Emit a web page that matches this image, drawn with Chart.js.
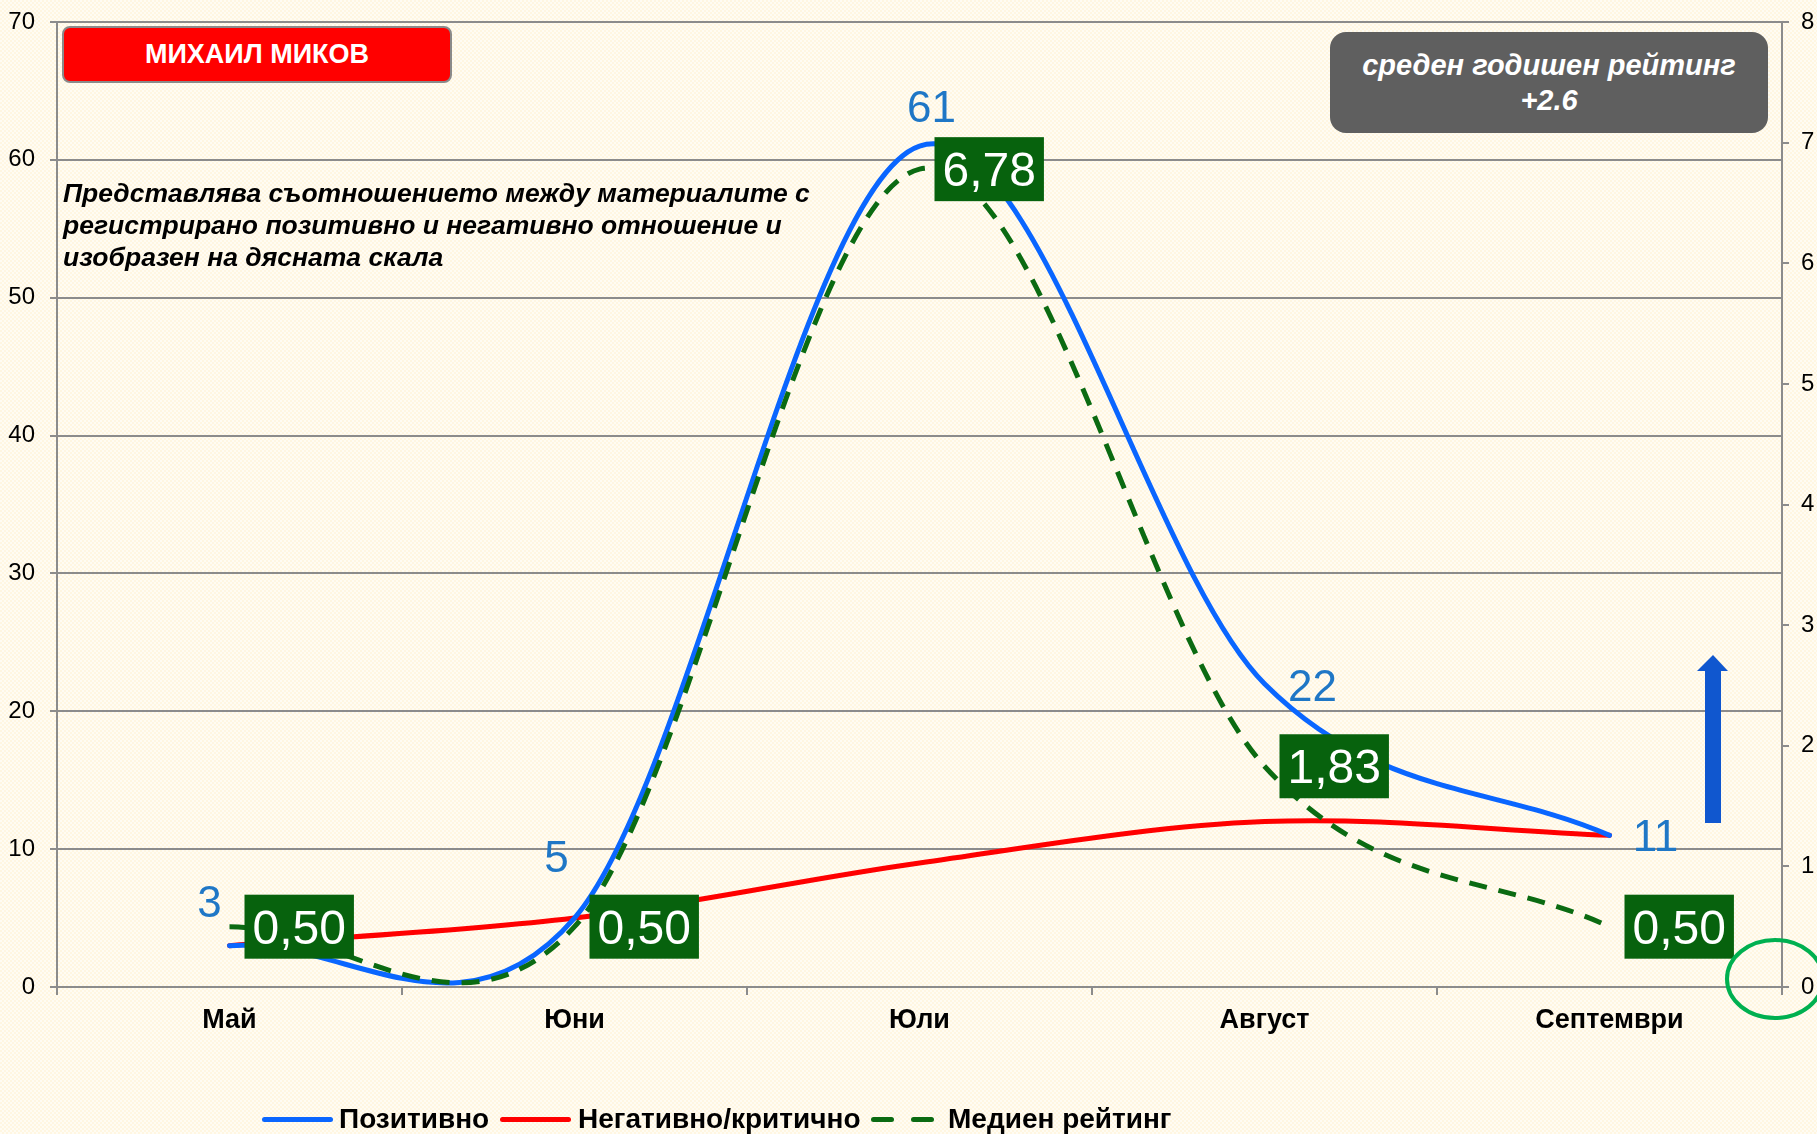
<!DOCTYPE html>
<html>
<head>
<meta charset="utf-8">
<script src="https://cdn.jsdelivr.net/npm/chart.js@4.4.1/dist/chart.umd.min.js"></script>
<style>
  html, body { margin:0; padding:0; }
  body { width:1817px; height:1134px; overflow:hidden;
    background: repeating-conic-gradient(#fff6e1 0 25%, #fffcf3 0 50%) 0 0/4px 4px; }
  #wrap { position:relative; width:1817px; height:1134px; overflow:hidden; font-family:"Liberation Sans", Arial, sans-serif; }
  canvas { position:absolute; left:0; top:0; }
  .namebox { position:absolute; left:62px; top:26px; width:386px; height:53px; background:#ff0000;
    border:2px solid #8a8a8a; border-radius:8px; color:#fff; font-weight:bold; font-size:27px;
    line-height:53px; text-align:center; }
  .note { position:absolute; left:63px; top:177px; font-weight:bold; font-style:italic; font-size:26.5px;
    line-height:32px; color:#000; white-space:nowrap; }
  .avgbox { position:absolute; left:1330px; top:32px; width:438px; height:101px; background:#5f5f5f;
    border-radius:16px; color:#fff; font-weight:bold; font-style:italic; font-size:29px; line-height:35px;
    text-align:center; box-sizing:border-box; padding-top:16px; }
  .lg { position:absolute; top:1104px; font-weight:bold; font-size:28px; line-height:30px; color:#000; white-space:nowrap; }
  .lgline { position:absolute; height:5px; top:1117px; border-radius:3px; }
  svg { position:absolute; left:0; top:0; }
</style>
</head>
<body>
<div id="wrap">
  <canvas id="chart" width="1817" height="1134"></canvas>
  <div class="namebox">МИХАИЛ МИКОВ</div>
  <div class="note">Представлява съотношението между материалите с<br>регистрирано позитивно и негативно отношение и<br>изобразен на дясната скала</div>
  <div class="avgbox">среден годишен рейтинг<br>+2.6</div>
  <svg width="1817" height="1134">
    <polygon points="1705,823 1705,671 1697,671 1713,655 1728,671 1721,671 1721,823" fill="#1057cf"/>
    <ellipse cx="1775" cy="979" rx="48" ry="39" fill="none" stroke="#00b050" stroke-width="4"/>
  </svg>
  <div class="lgline" style="left:262px;width:71px;background:#0a66ff"></div>
  <div class="lg" style="left:339px">Позитивно</div>
  <div class="lgline" style="left:500px;width:71px;background:#ff0000"></div>
  <div class="lg" style="left:578px">Негативно/критично</div>
  <div class="lgline" style="left:871px;width:23px;background:#0b6b12"></div>
  <div class="lgline" style="left:911px;width:23px;background:#0b6b12"></div>
  <div class="lg" style="left:948px">Медиен рейтинг</div>
</div>
<script>
// ---- data ----
const categories = ['Май', 'Юни', 'Юли', 'Август', 'Септември'];
const positiveValues = [3, 5, 61, 22, 11];
const negativeValues = [3, 5, 9, 12, 11];
const medianRating = [0.5, 0.5, 6.78, 1.83, 0.5];
const medianLabels = ['0,50', '0,50', '6,78', '1,83', '0,50'];
const leftAxisRange = [0, 70];
const rightAxisRange = [0, 8];

// ---- label placement (style, not data) ----
const positiveLabelOffsets = [[-20, -44], [-18, -62], [12, -40], [48, 2], [46, 0]];
const targetArea = { left: 57, top: 22, right: 1782, bottom: 987 };

const FONT = '"Liberation Sans", Arial, sans-serif';
Chart.defaults.font.family = FONT;

// Excel-like smoothing: uniform Catmull-Rom control points on the library's own points
const smoothPlugin = {
  id: 'excelSmooth',
  beforeDatasetDraw(chart, args) {
    const meta = args.meta;
    const line = meta.dataset;
    const pts = meta.data;
    const n = pts.length;
    for (let i = 0; i < n; i++) {
      const p = pts[i];
      let dx, dy;
      if (i === 0) { dx = (pts[1].x - p.x) / 3; dy = (pts[1].y - p.y) / 3; }
      else if (i === n - 1) { dx = (p.x - pts[i - 1].x) / 3; dy = (p.y - pts[i - 1].y) / 3; }
      else { dx = (pts[i + 1].x - pts[i - 1].x) / 6; dy = (pts[i + 1].y - pts[i - 1].y) / 6; }
      p.cp1x = p.x - dx; p.cp1y = p.y - dy;
      p.cp2x = p.x + dx; p.cp2y = p.y + dy;
    }
    line._pointsUpdated = true;
    line._path = undefined;
  }
};

const labelPlugin = {
  id: 'valueLabels',
  afterDatasetsDraw(chart) {
    const ctx = chart.ctx;
    ctx.save();
    const mp = chart.getDatasetMeta(0);
    ctx.font = '44px ' + FONT;
    ctx.fillStyle = '#1f77c6';
    ctx.textAlign = 'center';
    ctx.textBaseline = 'alphabetic';
    mp.data.forEach((pt, i) => {
      const o = positiveLabelOffsets[i];
      ctx.fillText(String(positiveValues[i]), pt.x + o[0], pt.y + o[1] + 0.358 * 44);
    });
    const mm = chart.getDatasetMeta(2);
    ctx.font = '48px ' + FONT;
    mm.data.forEach((pt, i) => {
      const txt = medianLabels[i];
      const w = ctx.measureText(txt).width + 16;
      const left = pt.x + 15, top = pt.y - 32;
      ctx.fillStyle = '#07620d';
      ctx.fillRect(left, top, w, 64);
      ctx.fillStyle = '#ffffff';
      ctx.textAlign = 'center';
      ctx.fillText(txt, left + w / 2, pt.y + 0.358 * 48);
    });
    ctx.restore();
  }
};

const gridColor = '#8c8c8c';

const chart = new Chart(document.getElementById('chart'), {
  type: 'line',
  data: {
    labels: categories,
    datasets: [
      { label: 'Позитивно', data: positiveValues, yAxisID: 'y', borderColor: '#0a66ff', borderWidth: 5,
        tension: 0.4, pointRadius: 0, order: 2, borderCapStyle: 'round' },
      { label: 'Негативно/критично', data: negativeValues, yAxisID: 'y', borderColor: '#ff0000', borderWidth: 5,
        tension: 0.4, pointRadius: 0, order: 3, borderCapStyle: 'round' },
      { label: 'Медиен рейтинг', data: medianRating, yAxisID: 'y1', borderColor: '#0b6b12', borderWidth: 5,
        borderDash: [18, 12], tension: 0.4, pointRadius: 0, order: 1 }
    ]
  },
  options: {
    responsive: false,
    animation: false,
    layout: { padding: { top: targetArea.top, left: 0, right: 0, bottom: 0 } },
    elements: { line: { capBezierPoints: false } },
    plugins: { legend: { display: false }, tooltip: { enabled: false } },
    scales: {
      x: {
        type: 'category', offset: true,
        grid: { offset: true, drawOnChartArea: false, drawTicks: true, tickLength: 8, color: gridColor, lineWidth: 2 },
        border: { color: gridColor, width: 2 },
        ticks: { color: '#000', font: { size: 27, weight: 'bold' }, padding: 9, maxRotation: 0, autoSkip: false },
        afterFit(s) { s.height = 1134 - targetArea.bottom; }
      },
      y: {
        position: 'left', min: leftAxisRange[0], max: leftAxisRange[1],
        grid: { color: gridColor, lineWidth: 2, tickLength: 7 },
        border: { color: gridColor, width: 2 },
        ticks: { stepSize: 10, color: '#000', font: { size: 24, lineHeight: 0.5 }, padding: 15 },
        afterFit(s) { s.width = targetArea.left; }
      },
      y1: {
        position: 'right', min: rightAxisRange[0], max: rightAxisRange[1],
        grid: { drawOnChartArea: false, color: gridColor, lineWidth: 2, tickLength: 7 },
        border: { color: gridColor, width: 2 },
        ticks: { stepSize: 1, color: '#000', font: { size: 24, lineHeight: 0.5 }, padding: 12 },
        afterFit(s) { s.width = 1817 - targetArea.right; }
      }
    }
  },
  plugins: [smoothPlugin, labelPlugin]
});
</script>
</body>
</html>
